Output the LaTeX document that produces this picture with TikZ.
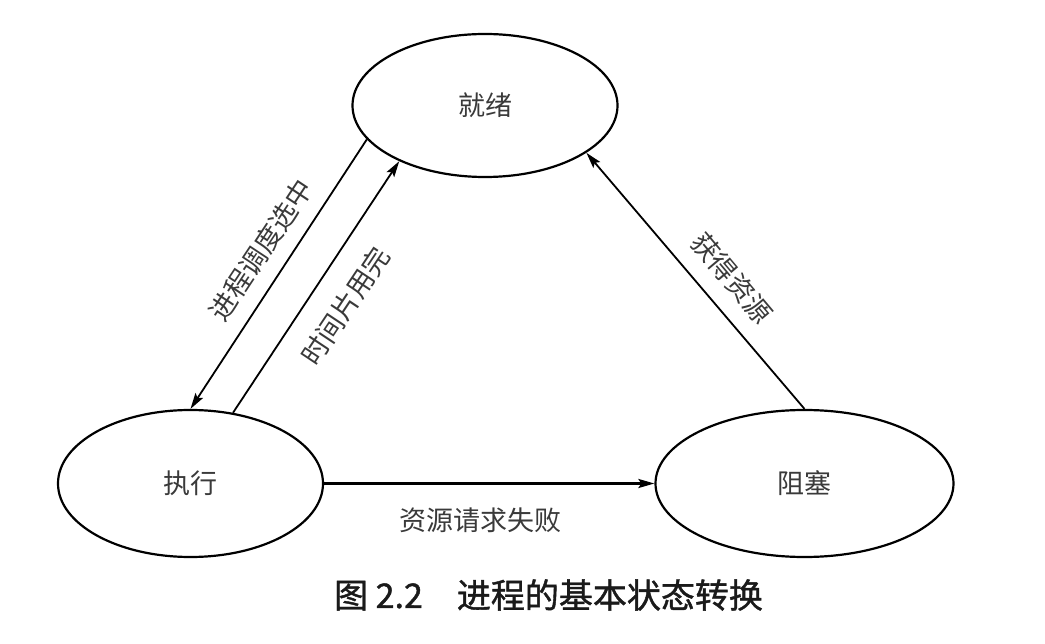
\documentclass[tikz,border=0pt]{standalone}
\usepackage{fontspec}
\setmainfont{Liberation Sans}
\newfontfamily\cjk{Noto Sans CJK SC}
\newfontfamily\cjkcap[FakeBold=1.2]{Noto Sans CJK SC}
\usetikzlibrary{shapes.geometric,arrows.meta}
\definecolor{txt}{HTML}{3A3A3A}
\definecolor{capc}{HTML}{1A1A1A}
\begin{document}
\begin{tikzpicture}[x=1pt,y=-1pt,
  state/.style={ellipse, draw, line width=2.2pt, inner sep=0pt,
    font=\cjk\fontsize{27}{27}\selectfont, text=txt},
  arr/.style={-{Stealth[length=16pt,width=9pt,inset=3pt]}, line width=1.8pt},
  lab/.style={font=\cjk\fontsize{27}{27}\selectfont, text=txt, inner sep=0pt},
  captxt/.style={font=\cjkcap\fontsize{34}{34}\selectfont, text=capc, inner sep=0pt}]
\useasboundingbox[fill=white] (0,0) rectangle (1045,644);
% states
\node[state, minimum width=265pt, minimum height=143pt] (jx) at (485,105.5) {就绪};
\node[state, minimum width=265pt, minimum height=147pt] (zx) at (190.5,483.5) {执行};
\node[state, minimum width=298pt, minimum height=147pt] (zs) at (804.5,483.5) {阻塞};
% connectors
\draw[arr] (jx.196.3) -- (zx.north);
\draw[arr] (zx.59.5) -- (jx.213);
\draw[arr] (zs.north) -- (jx.335.7);
\draw[arr, line width=2.4pt] (zx.east) -- (zs.west);
% labels
\node[lab, rotate=56.5] (l1) at (261,250) {进程调度选中};
\node[lab, rotate=56.3] (l2) at (345,306) {时间片用完};
\node[lab, rotate=-49.9] (l3) at (732,278) {获得资源};
\node[lab] (l4) at (480,520) {资源请求失败};
% caption
\node[captxt] (cap) at (548.5,595) {图 2.2\quad 进程的基本状态转换};
\end{tikzpicture}
\end{document}
